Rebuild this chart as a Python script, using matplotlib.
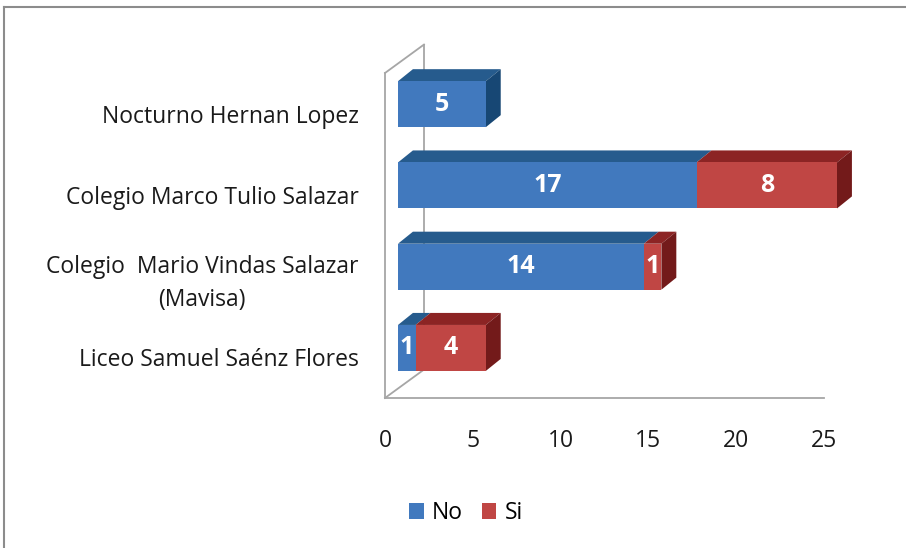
import matplotlib
matplotlib.use("Agg")
import matplotlib.pyplot as plt
from matplotlib.patches import Polygon, Rectangle
from matplotlib.lines import Line2D

# data (bottom to top, as drawn)
categories = ["Liceo Samuel Saénz Flores",
              "Colegio  Mario Vindas Salazar\n(Mavisa)",
              "Colegio Marco Tulio Salazar",
              "Nocturno Hernan Lopez"]
no_vals = [1, 14, 17, 5]
si_vals = [4, 1, 8, 0]
series_names = ["No", "Si"]
x_ticks = [0, 5, 10, 15, 20, 25]

# colours: front, top, side
blue = ("#4179be", "#265b8d", "#174774")
red = ("#c04644", "#8c2424", "#731a1a")
wall = "#a6a6a6"

plt.rcParams['font.family'] = ['Open Sans', 'DejaVu Sans']

W, H = 906, 548
fig = plt.figure(figsize=(W / 100, H / 100), dpi=100)
ax = fig.add_axes([385 / W, 1 - 398 / H, 439 / W, 325 / H])
ax.set_xlim(0, 25)
ax.set_ylim(-0.5, 3.5)

# 3d-ish offsets in data units
ox, oy = 0.74, 0.116      # shift of bar front face from floor edge
dx, dy = 0.85, 0.148      # bar depth
hh = 0.283                # half bar height
wx, wy = 2.22, 0.35       # wall depth

# walls
ax.plot([0, wx], [3.5, 3.5 + wy], color=wall, lw=1.3, clip_on=False, zorder=1)
ax.plot([wx, wx], [3.5 + wy, -0.5 + wy], color=wall, lw=1.3, clip_on=False, zorder=1)
ax.plot([0, wx], [-0.5, -0.5 + wy], color=wall, lw=1.3, clip_on=False, zorder=1)

for i, cat in enumerate(categories):
    segs = [(0, no_vals[i], blue), (no_vals[i], no_vals[i] + si_vals[i], red)]
    segs = [s for s in segs if s[1] > s[0]]
    y0 = i - hh + oy
    y1 = i + hh + oy
    for a, b, col in segs:
        top = Polygon([(a + ox, y1), (b + ox, y1), (b + ox + dx, y1 + dy), (a + ox + dx, y1 + dy)],
                      closed=True, facecolor=col[1], edgecolor='none', zorder=3, clip_on=False)
        ax.add_patch(top)
    a, b, col = segs[-1]
    side = Polygon([(b + ox, y0), (b + ox + dx, y0 + dy), (b + ox + dx, y1 + dy), (b + ox, y1)],
                   closed=True, facecolor=col[2], edgecolor='none', zorder=3, clip_on=False)
    ax.add_patch(side)
    for a, b, col in segs:
        front = Rectangle((a + ox, y0), b - a, y1 - y0, facecolor=col[0],
                          edgecolor='none', zorder=4, clip_on=False)
        ax.add_patch(front)
        ax.text((a + b) / 2 + ox, i + oy, str(b - a), color='white', fontsize=18,
                fontweight='bold', ha='center', va='center', zorder=5)

ax.set_yticks(range(len(categories)))
ax.set_yticklabels(categories, fontsize=16.5, color='#1a1a1a')
for t in ax.get_yticklabels():
    t.set_multialignment('center')
    t.set_linespacing(1.5)
ax.set_xticks(x_ticks)
ax.set_xticklabels([str(v) for v in x_ticks], fontsize=16.5, color='#1a1a1a')
ax.tick_params(axis='y', length=0, pad=19)
ax.tick_params(axis='x', length=0, pad=22)
for s in ['top', 'right']:
    ax.spines[s].set_visible(False)
for s in ['left', 'bottom']:
    ax.spines[s].set_color(wall)
    ax.spines[s].set_linewidth(1.3)
ax.patch.set_alpha(0)

handles = [Rectangle((0, 0), 1, 1, facecolor=blue[0]), Rectangle((0, 0), 1, 1, facecolor=red[0])]
fig.legend(handles, series_names, loc='center', bbox_to_anchor=(466 / W, 1 - 513 / H),
           ncol=2, frameon=False, fontsize=16.5, handlelength=0.65, handleheight=0.65,
           handletextpad=0.35, columnspacing=0.8)

# chart area border (top and left only visible)
fig.add_artist(Line2D([4 / W, 1], [1 - 7 / H, 1 - 7 / H], color='#8c8c8c', lw=1.5,
                      transform=fig.transFigure))
fig.add_artist(Line2D([4 / W, 4 / W], [0, 1 - 7 / H], color='#8c8c8c', lw=1.5,
                      transform=fig.transFigure))

fig.savefig("out.png", dpi=100)
